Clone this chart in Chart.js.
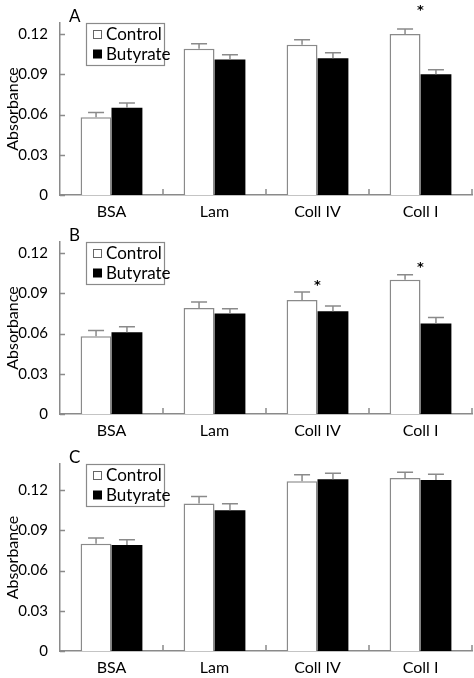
<!DOCTYPE html>
<html>
<head>
<meta charset="utf-8">
<script src="https://cdn.jsdelivr.net/npm/chart.js@4"></script>
<style>
html, body { margin: 0; padding: 0; background: #fff; }
#wrap { position: relative; width: 474px; height: 678px; }
canvas { position: absolute; left: 0; }
</style>
</head>
<body>
<div id="wrap">
  <canvas id="chartA" width="474" height="218" style="top:0px"></canvas>
  <canvas id="chartB" width="474" height="222" style="top:218px"></canvas>
  <canvas id="chartC" width="474" height="238" style="top:440px"></canvas>
</div>
<script>
const categories = ['BSA', 'Lam', 'Coll IV', 'Coll I'];
const seriesNames = ['Control', 'Butyrate'];
const yTickValues = [0, 0.03, 0.06, 0.09, 0.12];
const yTickLabels = ['0', '0.03', '0.06', '0.09', '0.12'];

// panel A
const controlA = [0.058, 0.109, 0.112, 0.120];
const controlErrA = [0.0035, 0.0037, 0.0037, 0.0038];
const butyrateA = [0.065, 0.101, 0.102, 0.090];
const butyrateErrA = [0.0035, 0.0035, 0.0040, 0.0034];
const starsA = [null, null, null, 0.140];

// panel B
const controlB = [0.058, 0.079, 0.085, 0.100];
const controlErrB = [0.0042, 0.0044, 0.0059, 0.0037];
const butyrateB = [0.061, 0.075, 0.0765, 0.0675];
const butyrateErrB = [0.0040, 0.0035, 0.0040, 0.0045];
const starsB = [null, null, 0.098, 0.111];

// panel C
const controlC = [0.080, 0.110, 0.1265, 0.129];
const controlErrC = [0.0042, 0.0052, 0.0048, 0.0042];
const butyrateC = [0.079, 0.105, 0.128, 0.1275];
const butyrateErrC = [0.0040, 0.0047, 0.0045, 0.0042];
const starsC = [null, null, null, null];

const axisGrey = '#8a8a8a';
Chart.defaults.font.family = 'Lato';
Chart.defaults.color = '#000';

const extrasPlugin = {
  id: 'extras',
  afterDatasetsDraw(chart, args, opts) {
    const ctx = chart.ctx;
    const x = chart.scales.x;
    const y = chart.scales.y;
    const area = chart.chartArea;
    ctx.save();

    // error bars (upper only)
    ctx.strokeStyle = axisGrey;
    ctx.lineWidth = 1.5;
    chart.data.datasets.forEach((ds, di) => {
      chart.getDatasetMeta(di).data.forEach((bar, i) => {
        const top = y.getPixelForValue(ds.data[i]);
        const cap = y.getPixelForValue(ds.data[i] + opts.errors[di][i]);
        ctx.beginPath();
        ctx.moveTo(bar.x, top);
        ctx.lineTo(bar.x, cap);
        ctx.moveTo(bar.x - 8, cap);
        ctx.lineTo(bar.x + 8, cap);
        ctx.stroke();
      });
    });

    // inward tick marks
    yTickValues.forEach(v => {
      const py = Math.round(y.getPixelForValue(v)) + 0.5;
      ctx.beginPath();
      ctx.moveTo(area.left, py);
      ctx.lineTo(area.left + 5, py);
      ctx.stroke();
    });
    for (let i = 1; i <= categories.length; i++) {
      const px = i < categories.length
        ? (x.getPixelForTick(i - 1) + x.getPixelForTick(i)) / 2
        : area.right;
      ctx.beginPath();
      ctx.moveTo(px, area.bottom);
      ctx.lineTo(px, area.bottom - 6);
      ctx.stroke();
    }

    // significance stars
    ctx.fillStyle = '#000';
    ctx.font = 'bold 13px "DejaVu Sans"';
    ctx.textAlign = 'center';
    ctx.textBaseline = 'middle';
    opts.stars.forEach((v, i) => {
      if (v === null) return;
      ctx.fillText('*', x.getPixelForTick(i), y.getPixelForValue(v) + 3);
    });

    // panel letter
    ctx.font = '17px Lato';
    ctx.textAlign = 'left';
    ctx.textBaseline = 'alphabetic';
    ctx.fillText(opts.letter, area.left + 9, area.top - 1);

    // legend box
    const lx = area.left + 26;
    const ly = area.top;
    ctx.fillStyle = '#fff';
    ctx.fillRect(lx, ly, 78, 42);
    ctx.strokeStyle = axisGrey;
    ctx.lineWidth = 1.2;
    ctx.strokeRect(lx + 0.5, ly + 0.5, 78, 42);
    ctx.textBaseline = 'middle';
    ctx.font = '17px Lato';
    chart.data.datasets.forEach((ds, di) => {
      const cy = ly + 11 + di * 19.5;
      if (di === 0) {
        ctx.fillStyle = '#fff';
        ctx.fillRect(lx + 7, cy - 4, 8, 8);
        ctx.strokeStyle = '#666';
        ctx.lineWidth = 1;
        ctx.strokeRect(lx + 7.5, cy - 3.5, 8, 8);
      } else {
        ctx.fillStyle = '#000';
        ctx.fillRect(lx + 7, cy - 4, 9, 9);
      }
      ctx.fillStyle = '#000';
      ctx.fillText(ds.label, lx + 20, cy + 1);
    });
    ctx.restore();
  }
};

function makePanel(id, control, controlErr, butyrate, butyrateErr, stars, letter, yMax, padTop, xHeight) {
  return new Chart(document.getElementById(id), {
    type: 'bar',
    data: {
      labels: categories,
      datasets: [
        {
          label: seriesNames[0],
          data: control,
          backgroundColor: '#fff',
          borderColor: axisGrey,
          borderWidth: 1.5,
          categoryPercentage: 0.6,
          barPercentage: 1.0
        },
        {
          label: seriesNames[1],
          data: butyrate,
          backgroundColor: '#000',
          borderColor: '#000',
          borderWidth: 0,
          categoryPercentage: 0.6,
          barPercentage: 1.0
        }
      ]
    },
    options: {
      responsive: false,
      animation: false,
      layout: { padding: { top: padTop, left: 0, right: 2, bottom: 0 } },
      scales: {
        x: {
          grid: { display: false, drawTicks: false },
          border: { display: true, color: axisGrey, width: 1.5 },
          ticks: { font: { size: 16 }, padding: 7, maxRotation: 0, color: '#000' },
          afterFit(scale) { scale.height = xHeight; }
        },
        y: {
          min: 0,
          max: yMax,
          grid: { display: false, drawTicks: false },
          border: { display: true, color: axisGrey, width: 1.5 },
          afterBuildTicks(scale) {
            scale.ticks = yTickValues.map(v => ({ value: v }));
          },
          ticks: {
            font: { size: 15 },
            padding: 12,
            color: '#000',
            callback: (v) => {
              const i = yTickValues.indexOf(v);
              return i >= 0 ? yTickLabels[i] : '';
            }
          },
          title: {
            display: true,
            text: 'Absorbance',
            font: { size: 16 },
            color: '#000',
            padding: { top: 3, bottom: 0 }
          },
          afterFit(scale) { scale.width = 60; }
        }
      },
      plugins: {
        legend: { display: false },
        tooltip: { enabled: false },
        extras: {
          errors: [controlErr, butyrateErr],
          stars: stars,
          letter: letter
        }
      }
    },
    plugins: [extrasPlugin]
  });
}

makePanel('chartA', controlA, controlErrA, butyrateA, butyrateErrA, starsA, 'A', 0.1282, 23, 23);
makePanel('chartB', controlB, controlErrB, butyrateB, butyrateErrB, starsB, 'B', 0.1282, 24, 26);
makePanel('chartC', controlC, controlErrC, butyrateC, butyrateErrC, starsC, 'C', 0.1394, 24, 27);
</script>
</body>
</html>
